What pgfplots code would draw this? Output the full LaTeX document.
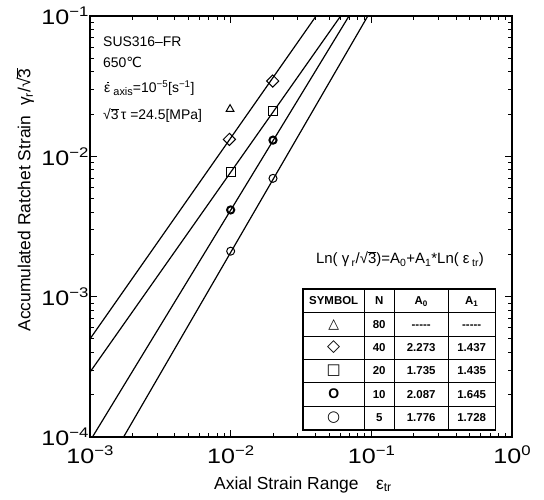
\documentclass[border=0pt]{standalone}
\usepackage{pgfplots}
\pgfplotsset{compat=1.18}
\usepackage{fontspec}
\usepackage{graphicx}
\setmainfont{Liberation Sans}
\newfontfamily\dejavu{DejaVu Sans}
\newcommand\tl[1]{\scalebox{1.2}[1]{\fontsize{21}{21}\selectfont 10\raisebox{8bp}{\fontsize{14}{14}\selectfont −#1}}}
\newcommand\tlz{\scalebox{1.2}[1]{\fontsize{21}{21}\selectfont 10\raisebox{8bp}{\fontsize{14}{14}\selectfont 0}}}
\newcommand\rs{\rule[-7.6bp]{0pt}{22.3bp}}
\newcommand\cell[2]{\makebox[#1]{#2}}
\newcommand\sqt{√$\overline{\mbox{3}}$}
\begin{document}
\begin{tikzpicture}
\path[use as bounding box] (-90bp,-63bp) rectangle (454bp,437bp);
\begin{axis}[
  at={(0,0)}, anchor=south west,
  width=422bp, height=421bp, scale only axis,
  xmode=log, ymode=log,
  xmin=1e-3, xmax=1, ymin=1e-4, ymax=1e-1,
  xtick={1e-3,1e-2,1e-1,1},
  xticklabels={\tl{3},\tl{2},\tl{1},\tlz},
  ytick={1e-4,1e-3,1e-2,1e-1},
  yticklabels={\tl{4},\tl{3},\tl{2},\tl{1}},
  xticklabel style={anchor=base, yshift=-26bp},
  yticklabel style={anchor=east, xshift=2bp},
  tick align=inside,
  major tick length=7bp, minor tick length=4bp,
  axis line style={line width=1.4bp},
  every tick/.style={black, line width=0.9bp},
  clip=true,
]
% fitted lines
\addplot[black, line width=1.2bp, no marks] coordinates {(0.001,5.0e-4) (0.0405,0.1)};
\addplot[black, line width=1.2bp, no marks] coordinates {(0.001,2.9e-4) (0.0605,0.1)};
\addplot[black, line width=1.2bp, no marks] coordinates {(0.001041,1e-4) (0.0694,0.1)};
\addplot[black, line width=1.2bp, no marks] coordinates {(0.001733,1e-4) (0.0944,0.1)};
% data points
\addplot[black, only marks, mark=triangle, mark size=4.5bp, line width=1bp] coordinates {(0.0099,0.0217)};
\addplot[black, only marks, mark=square, mark options={rotate=45}, mark size=4.3bp, line width=1bp] coordinates {(0.0098,0.0132) (0.0199,0.0344)};
\addplot[black, only marks, mark=square, mark size=4.5bp, line width=1.1bp] coordinates {(0.01,0.00778) (0.02,0.0210)};
\addplot[black, only marks, mark=o, mark size=3.6bp, line width=2bp] coordinates {(0.01,0.00415) (0.02,0.01305)};
\addplot[black, only marks, mark=o, mark size=4bp, line width=1bp] coordinates {(0.01,0.00211) (0.02,0.00697)};
\end{axis}
% annotations
\begin{scope}[every node/.style={inner sep=0pt, font=\fontsize{14}{16}\selectfont}]
\node[anchor=base west] at (13bp,390bp) {SUS316–FR};
\node[anchor=base west] at (13bp,369bp) {650{\dejavu ℃}};
\node[anchor=base west] at (14bp,344bp) {\rlap{\hspace{2.6bp}\raisebox{9.5bp}{\rule{1.9bp}{1.9bp}}}ε\hspace{3bp}{\fontsize{11}{12}\selectfont\raisebox{-3bp}{axis}}=10\textsuperscript{−5}[s\textsuperscript{−1}]};
\node[anchor=base west] at (13bp,317bp) {\sqt\,τ =24.5[MPa]};
\end{scope}
\node[anchor=base, inner sep=0pt, font=\fontsize{15}{16}\selectfont] at (310bp,173bp)
  {Ln( γ\,\textsubscript{r}/\sqt)=A\textsubscript{0}+A\textsubscript{1}*Ln( ε\,\textsubscript{tr})};
% axis labels
\node[anchor=base, inner sep=0pt, font=\fontsize{17.5}{20}\selectfont] at (213bp,-52bp)
  {Axial Strain Range\quad ε\textsubscript{tr}};
\node[rotate=90, inner sep=0pt, font=\fontsize{17.5}{20}\selectfont] at (-65bp,237bp)
  {Accumulated Ratchet Strain\ \ γ\textsubscript{r}/\sqt};
% table
\node[anchor=north west, inner sep=0pt, font=\fontsize{11.5}{13}\selectfont\bfseries] (tbl) at (213bp,148bp) {%
\setlength\tabcolsep{0pt}\setlength\arrayrulewidth{1bp}%
\begin{tabular}{|c|c|c|c|}\hline
\rs\cell{61bp}{SYMBOL} & \cell{30bp}{N} & \cell{54bp}{A\textsubscript{0}} & \cell{47bp}{A\textsubscript{1}}\\\hline
\rs\cell{61bp}{\dejavu\fontsize{14}{14}\selectfont △} & \cell{30bp}{80} & \cell{54bp}{-{}-{}-{}-{}-} & \cell{47bp}{-{}-{}-{}-{}-}\\\hline
\rs\cell{61bp}{\dejavu\fontsize{17}{17}\selectfont ◇} & \cell{30bp}{40} & \cell{54bp}{2.273} & \cell{47bp}{1.437}\\\hline
\rs\cell{61bp}{\dejavu\fontsize{15}{15}\selectfont □} & \cell{30bp}{20} & \cell{54bp}{1.735} & \cell{47bp}{1.435}\\\hline
\rs\cell{61bp}{\fontsize{14}{14}\selectfont\bfseries O} & \cell{30bp}{10} & \cell{54bp}{2.087} & \cell{47bp}{1.645}\\\hline
\rs\cell{61bp}{\dejavu\fontsize{15}{15}\selectfont ○} & \cell{30bp}{5} & \cell{54bp}{1.776} & \cell{47bp}{1.728}\\\hline
\end{tabular}};
\draw[line width=1.6bp] (tbl.south west) rectangle (tbl.north east);
\end{tikzpicture}
\end{document}
